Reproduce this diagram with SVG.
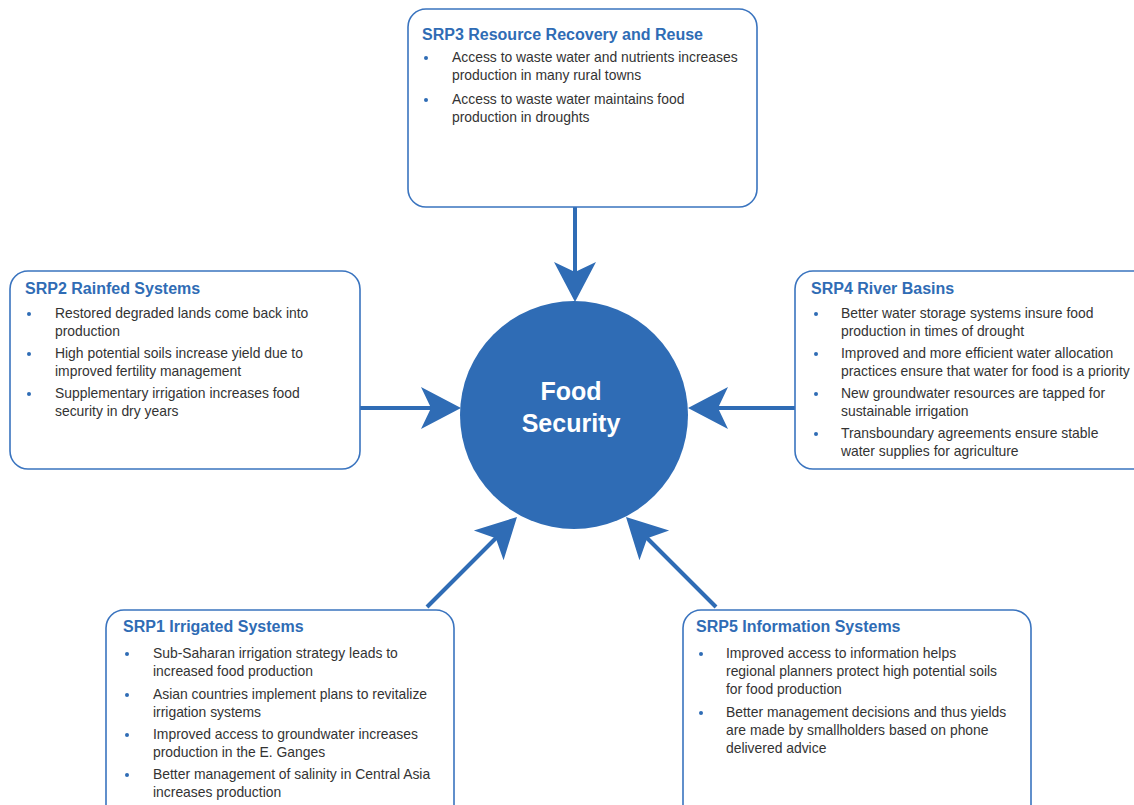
<svg xmlns="http://www.w3.org/2000/svg" width="1134" height="805" viewBox="0 0 1134 805">
<style>
.box{fill:#fff;stroke:#3a74bf;stroke-width:1.6}
.t{font-family:"Liberation Sans",Arial,sans-serif;font-weight:bold;font-size:16px;fill:#2f6cb5}
.b{font-family:"Liberation Sans",Arial,sans-serif;font-size:13.9px;fill:#333}
.d{fill:#2f6cb5}
.c{stroke:#2f6cb5;stroke-width:4;fill:none}
.h{fill:#2f6cb5}
.f{font-family:"Liberation Sans",Arial,sans-serif;font-weight:bold;font-size:25px;fill:#fff}
</style>
<defs>
<path id="ah" d="M0,0 L-40,-21 L-30,0 L-40,21 Z"/>
</defs>
<rect width="1134" height="805" fill="#fff"/>
<g id="connectors">
<line class="c" x1="575" y1="207" x2="575" y2="280"/>
<use href="#ah" class="h" transform="translate(575,302) rotate(90)"/>
<line class="c" x1="360" y1="408" x2="440" y2="408"/>
<use href="#ah" class="h" transform="translate(461,408)"/>
<line class="c" x1="795" y1="408" x2="710" y2="408"/>
<use href="#ah" class="h" transform="translate(688,408) rotate(180)"/>
<line class="c" x1="427" y1="607" x2="500" y2="534"/>
<use href="#ah" class="h" transform="translate(517,517) rotate(-45)"/>
<line class="c" x1="716" y1="607" x2="643" y2="534"/>
<use href="#ah" class="h" transform="translate(626,517) rotate(-135)"/>
</g>
<g id="center">
<circle cx="574" cy="415" r="114" fill="#2f6cb5"/>
<text class="f" x="571" y="400" text-anchor="middle">Food</text>
<text class="f" x="571" y="432" text-anchor="middle">Security</text>
</g>
<g id="srp3">
<rect class="box" x="408" y="9" width="349" height="198" rx="18"/>
<text class="t" x="422" y="40">SRP3 Resource Recovery and Reuse</text>
<circle class="d" cx="426" cy="58" r="2"/>
<text class="b" x="452" y="62">Access to waste water and nutrients increases</text>
<text class="b" x="452" y="80">production in many rural towns</text>
<circle class="d" cx="426" cy="100" r="2"/>
<text class="b" x="452" y="104">Access to waste water maintains food</text>
<text class="b" x="452" y="122">production in droughts</text>
</g>
<g id="srp2">
<rect class="box" x="10" y="271" width="350" height="198" rx="18"/>
<text class="t" x="25" y="294">SRP2 Rainfed Systems</text>
<circle class="d" cx="29" cy="314" r="2"/>
<text class="b" x="55" y="318">Restored degraded lands come back into</text>
<text class="b" x="55" y="336">production</text>
<circle class="d" cx="29" cy="354" r="2"/>
<text class="b" x="55" y="358">High potential soils increase yield due to</text>
<text class="b" x="55" y="376">improved fertility management</text>
<circle class="d" cx="29" cy="394" r="2"/>
<text class="b" x="55" y="398">Supplementary irrigation increases food</text>
<text class="b" x="55" y="416">security in dry years</text>
</g>
<g id="srp4">
<rect class="box" x="795" y="271" width="360" height="198" rx="18"/>
<text class="t" x="811" y="294">SRP4 River Basins</text>
<circle class="d" cx="816" cy="314" r="2"/>
<text class="b" x="841" y="318">Better water storage systems insure food</text>
<text class="b" x="841" y="336">production in times of drought</text>
<circle class="d" cx="816" cy="354" r="2"/>
<text class="b" x="841" y="358">Improved and more efficient water allocation</text>
<text class="b" x="841" y="376">practices ensure that water for food is a priority</text>
<circle class="d" cx="816" cy="394" r="2"/>
<text class="b" x="841" y="398">New groundwater resources are tapped for</text>
<text class="b" x="841" y="416">sustainable irrigation</text>
<circle class="d" cx="816" cy="434" r="2"/>
<text class="b" x="841" y="438">Transboundary agreements ensure stable</text>
<text class="b" x="841" y="456">water supplies for agriculture</text>
</g>
<g id="srp1">
<rect class="box" x="106" y="610" width="348" height="215" rx="18"/>
<text class="t" x="123" y="632">SRP1 Irrigated Systems</text>
<circle class="d" cx="127" cy="654" r="2"/>
<text class="b" x="153" y="658">Sub-Saharan irrigation strategy leads to</text>
<text class="b" x="153" y="676">increased food production</text>
<circle class="d" cx="127" cy="695" r="2"/>
<text class="b" x="153" y="699">Asian countries implement plans to revitalize</text>
<text class="b" x="153" y="717">irrigation systems</text>
<circle class="d" cx="127" cy="735" r="2"/>
<text class="b" x="153" y="739">Improved access to groundwater increases</text>
<text class="b" x="153" y="757">production in the E. Ganges</text>
<circle class="d" cx="127" cy="775" r="2"/>
<text class="b" x="153" y="779">Better management of salinity in Central Asia</text>
<text class="b" x="153" y="797">increases production</text>
</g>
<g id="srp5">
<rect class="box" x="683" y="610" width="348" height="215" rx="18"/>
<text class="t" x="696" y="632">SRP5 Information Systems</text>
<circle class="d" cx="701" cy="654" r="2"/>
<text class="b" x="726" y="658">Improved access to information helps</text>
<text class="b" x="726" y="676">regional planners protect high potential soils</text>
<text class="b" x="726" y="694">for food production</text>
<circle class="d" cx="701" cy="713" r="2"/>
<text class="b" x="726" y="717">Better management decisions and thus yields</text>
<text class="b" x="726" y="735">are made by smallholders based on phone</text>
<text class="b" x="726" y="753">delivered advice</text>
</g>
</svg>
